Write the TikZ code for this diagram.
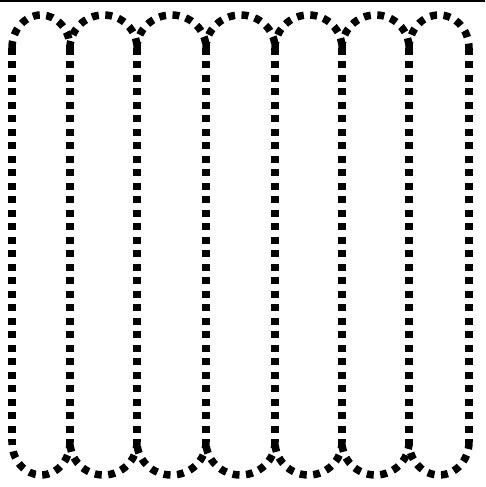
\documentclass[tikz,border=0pt]{standalone}
\begin{document}
\begin{tikzpicture}[x=1pt,y=1pt,
  dotline/.style={line width=7.5pt, dash pattern=on 7pt off 6.5pt, black}]
\useasboundingbox (0,0) rectangle (485,487);
\fill[white] (0,0) rectangle (485,487);
\draw[line width=3pt] (0,486) -- (485,486);
\def\xs{12,70,137,206,275,342,409,469}
% verticals
\foreach \x in \xs {
  \draw[dotline] (\x,439) -- (\x,45);
}
% arches
\foreach \a/\b in {12/70,70/137,137/206,206/275,275/342,342/409,409/469} {
  \pgfmathsetmacro\r{(\b-\a)/2}
  \draw[dotline] (\a,439) arc[start angle=180, end angle=0, x radius=\r, y radius=33];
  \draw[dotline] (\b,45) arc[start angle=0, end angle=-180, x radius=\r, y radius=33];
}
\end{tikzpicture}
\end{document}
